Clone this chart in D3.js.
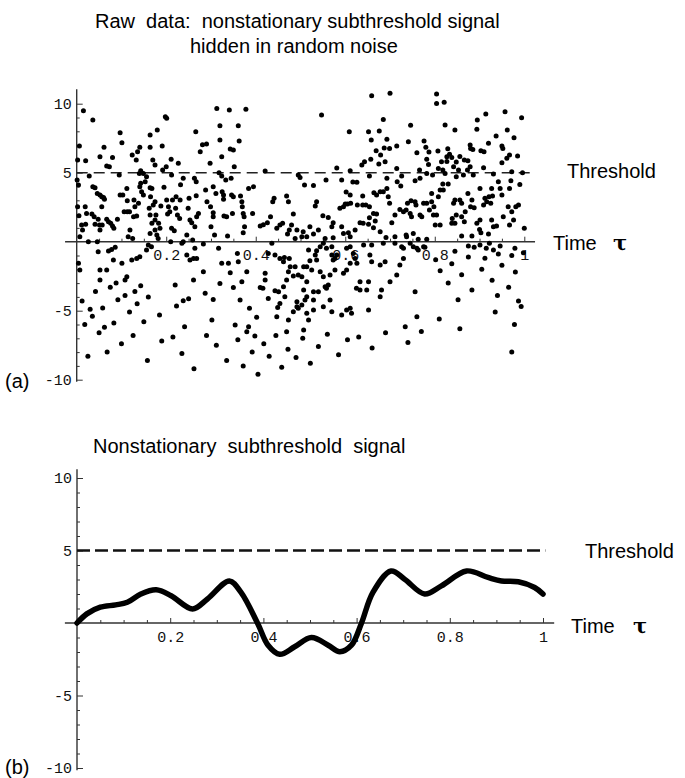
<!DOCTYPE html>
<html>
<head>
<meta charset="utf-8">
<script src="https://cdn.jsdelivr.net/npm/d3@7"></script>
<style>
  body { margin: 0; background: #fff; }
  svg { display: block; }
  .lbl { font-family: "Liberation Sans", Arial, sans-serif; fill: #000; }
  .tau { font-family: "DejaVu Serif", serif; font-weight: bold; fill: #000; }
  .tick text { font-family: "Liberation Mono", "Courier New", monospace; font-size: 15px; fill: #111; }
  .tick line { stroke: #333; }
</style>
</head>
<body>
<div id="chart"></div>
<script>
// smooth subthreshold signal, panel (b)
const signalT = [0, 0.021, 0.05, 0.083, 0.108, 0.137, 0.17, 0.202, 0.248, 0.28, 0.327, 0.352, 0.388, 0.41, 0.435, 0.467, 0.503, 0.539, 0.564, 0.589, 0.61, 0.635, 0.674, 0.703, 0.746, 0.782, 0.836, 0.882, 0.911, 0.947, 0.982, 1.0];
const signalV = [0, 0.63, 1.09, 1.25, 1.43, 2.0, 2.29, 1.88, 0.97, 1.66, 2.9, 2.11, -0.05, -1.53, -2.16, -1.64, -1.0, -1.53, -1.98, -1.53, -0.05, 2.11, 3.59, 3.02, 2.0, 2.56, 3.59, 3.14, 2.9, 2.84, 2.45, 2.0];

const rawUpperLeft = [[0.015,9.49],[0.036,8.82],[0.006,6.93],[0.002,5.92],[0.020,5.87],[0.001,4.47],[0.004,4.11],[0.028,4.76],[0.002,2.54],[0.005,1.88],[0.019,2.54],[0.011,1.21],[0.020,1.26],[0.013,0.85],[0.007,0.36],[0.026,0.0],[0.046,0.0],[0.022,2.05],[0.034,2.0],[0.039,1.81],[0.036,3.99],[0.041,3.91],[0.046,3.5],[0.052,3.38],[0.056,3.26],[0.060,3.21],[0.062,3.07],[0.056,2.54],[0.051,1.21],[0.057,1.21],[0.052,0.85],[0.048,1.62],[0.041,1.26],[0.052,6.16],[0.061,6.84],[0.067,5.48],[0.073,5.43],[0.080,6.11],[0.097,7.9],[0.101,7.17],[0.095,4.83],[0.067,1.62],[0.071,1.45],[0.076,1.33],[0.080,1.14],[0.083,0.97],[0.091,1.62],[0.097,3.38],[0.103,3.38],[0.112,3.86],[0.106,2.17],[0.113,2.17],[0.118,2.17],[0.113,2.97],[0.119,0.85],[0.115,0.36],[0.125,0.24],[0.128,3.02],[0.127,1.81],[0.124,6.28],[0.133,5.92],[0.136,6.52],[0.141,6.84],[0.143,5.14],[0.140,4.95],[0.143,4.23],[0.141,3.99],[0.145,3.62],[0.130,2.54],[0.134,1.86],[0.138,2.78],[0.149,3.38],[0.153,4.35],[0.149,4.95],[0.156,4.71],[0.164,7.73],[0.164,6.84],[0.180,8.09],[0.170,5.92],[0.175,5.56],[0.168,3.86],[0.164,3.91],[0.165,3.26],[0.162,2.42],[0.164,1.93],[0.168,1.33],[0.175,0.85],[0.164,0.6],[0.160,-0.24],[0.179,0.48],[0.182,0.24],[0.186,0.97],[0.175,1.57],[0.177,1.93],[0.171,2.66],[0.175,2.9],[0.188,2.58],[0.183,1.33],[0.191,6.93],[0.192,5.19],[0.195,3.94],[0.198,9.06],[0.201,8.94],[0.200,5.43],[0.211,5.97],[0.212,4.83],[0.205,2.54],[0.208,2.17],[0.203,2.0],[0.201,3.02],[0.214,3.02],[0.222,3.26],[0.212,0.97],[0.218,0.8],[0.210,0.0],[0.221,2.42],[0.225,1.93],[0.230,1.69],[0.231,3.02],[0.232,4.13],[0.238,4.59],[0.227,5.68],[0.246,0.48],[0.238,0.0],[0.249,2.42],[0.253,1.57],[0.251,3.14],[0.257,1.38],[0.263,4.59],[0.267,4.35],[0.266,7.97],[0.267,3.33],[0.264,1.09],[0.268,1.81],[0.272,2.05],[0.259,0.12],[0.276,6.52],[0.281,7.03],[0.290,7.08],[0.298,5.68],[0.288,3.74],[0.291,2.9],[0.299,2.54],[0.305,2.1],[0.305,1.81],[0.308,0.48],[0.300,1.09],[0.305,3.99],[0.311,3.5],[0.313,9.66],[0.320,8.41],[0.320,7.37],[0.318,5.0],[0.324,6.16],[0.324,4.76],[0.325,3.62],[0.328,3.38],[0.328,3.07],[0.333,4.47],[0.329,1.86],[0.335,1.81],[0.337,0.41],[0.343,6.71],[0.341,9.54],[0.350,6.64],[0.345,4.59],[0.346,3.38],[0.350,3.26],[0.348,2.05],[0.352,5.43],[0.361,8.41],[0.363,7.29],[0.366,3.31],[0.369,2.9],[0.370,2.54],[0.372,2.05],[0.374,1.81],[0.375,1.09],[0.372,0.65],[0.378,9.59],[0.384,3.86],[0.395,3.99],[0.393,2.05],[0.410,1.14],[0.417,1.23],[0.421,5.12],[0.426,1.38],[0.433,1.81],[0.438,2.9],[0.441,3.14],[0.447,0.97],[0.454,1.21],[0.460,1.33],[0.469,3.31],[0.473,2.9],[0.471,0.56],[0.475,0.85]];

const rawUpperRight = [[0.659,10.58],[0.700,10.75],[0.804,10.70],[0.804,10.02],[0.821,10.10],[0.547,9.18],[0.685,8.86],[0.746,8.43],[0.823,8.45],[0.845,8.09],[0.914,9.25],[0.895,8.82],[0.957,9.42],[0.994,8.99],[0.609,7.97],[0.652,7.97],[0.676,8.02],[0.658,7.37],[0.693,7.42],[0.741,7.25],[0.776,7.29],[0.894,8.14],[0.962,8.09],[0.937,7.66],[0.977,7.54],[0.920,7.13],[0.879,7.0],[0.885,6.69],[0.950,6.93],[0.952,6.76],[0.669,6.59],[0.687,6.79],[0.699,6.76],[0.715,6.93],[0.760,6.45],[0.780,6.84],[0.787,6.5],[0.807,6.57],[0.829,6.74],[0.833,6.33],[0.827,6.16],[0.838,6.11],[0.856,6.18],[0.866,5.92],[0.874,5.87],[0.880,6.76],[0.903,6.59],[0.910,6.52],[0.967,6.28],[0.961,6.04],[0.950,5.72],[0.985,6.21],[0.657,5.97],[0.643,5.8],[0.637,5.56],[0.675,5.63],[0.689,5.8],[0.679,6.28],[0.782,5.97],[0.786,5.6],[0.815,5.8],[0.827,5.82],[0.848,5.77],[0.782,4.95],[0.795,4.83],[0.808,5.31],[0.823,4.95],[0.818,5.19],[0.842,5.43],[0.853,5.19],[0.879,5.43],[0.848,4.71],[0.864,4.83],[0.873,5.19],[0.886,4.83],[0.909,5.36],[0.931,4.9],[0.942,4.35],[0.972,5.07],[0.996,5.0],[0.970,4.42],[0.990,4.15],[0.495,4.83],[0.499,4.66],[0.581,5.34],[0.611,5.14],[0.654,4.76],[0.693,4.59],[0.715,5.31],[0.716,4.35],[0.726,4.76],[0.724,4.03],[0.756,4.42],[0.767,4.59],[0.766,5.19],[0.509,4.11],[0.529,4.08],[0.557,4.47],[0.592,4.47],[0.602,3.6],[0.611,3.38],[0.617,4.32],[0.626,4.3],[0.639,3.31],[0.664,3.55],[0.670,3.38],[0.678,3.62],[0.685,3.62],[0.693,3.86],[0.696,3.26],[0.699,2.78],[0.739,2.78],[0.736,2.29],[0.747,2.97],[0.756,2.9],[0.758,2.66],[0.775,2.78],[0.782,2.78],[0.793,2.9],[0.798,2.54],[0.793,3.5],[0.808,3.26],[0.812,3.74],[0.819,3.74],[0.818,4.18],[0.830,4.18],[0.842,2.78],[0.845,3.02],[0.856,3.02],[0.860,2.78],[0.874,3.5],[0.883,3.02],[0.880,2.54],[0.888,2.46],[0.868,2.17],[0.860,1.81],[0.839,1.69],[0.848,1.93],[0.866,1.45],[0.845,1.33],[0.901,3.86],[0.912,3.14],[0.916,2.9],[0.921,3.26],[0.909,2.66],[0.929,3.31],[0.927,3.86],[0.946,3.86],[0.950,3.38],[0.967,3.86],[0.964,2.54],[0.987,2.66],[0.981,2.54],[0.972,2.17],[0.953,1.81],[0.967,1.21],[0.938,1.14],[0.927,1.57],[0.931,1.09],[0.976,1.57],[0.484,2.0],[0.533,2.58],[0.536,2.9],[0.550,1.88],[0.562,1.76],[0.573,1.38],[0.570,1.09],[0.592,1.09],[0.588,2.42],[0.596,2.54],[0.600,2.73],[0.605,2.73],[0.612,2.78],[0.627,2.66],[0.639,2.66],[0.646,2.66],[0.654,2.54],[0.663,2.05],[0.670,2.0],[0.654,1.74],[0.667,1.5],[0.633,1.38],[0.640,1.33],[0.652,1.26],[0.704,1.38],[0.711,1.93],[0.722,2.34],[0.730,2.17],[0.745,2.05],[0.748,1.81],[0.767,1.93],[0.771,1.81],[0.788,2.29],[0.797,1.93],[0.804,1.93],[0.801,1.21],[0.812,1.21],[0.838,1.33],[0.894,1.33],[0.900,0.89],[0.903,0.65],[0.920,0.56],[0.883,0.41],[0.860,0.41],[0.901,1.57],[0.925,2.78],[1.000,0.97],[0.480,1.21],[0.492,0.85],[0.506,0.72],[0.521,1.09],[0.503,0.36],[0.488,0.24],[0.514,0.36],[0.529,0.56],[0.540,0.85],[0.555,0.24],[0.573,0.29],[0.596,0.6],[0.607,0.65],[0.622,0.85],[0.611,0.36],[0.663,1.01],[0.678,0.72],[0.691,0.31],[0.711,0.36],[0.736,0.48],[0.752,0.6],[0.763,0.17],[0.782,0.17],[0.737,0.36]];

const rawLowerMid = [[0.167,-0.36],[0.235,-0.12],[0.246,-0.97],[0.261,-1.21],[0.253,-1.33],[0.268,-1.21],[0.264,-0.48],[0.283,-0.17],[0.317,-0.48],[0.324,-1.57],[0.283,-2.17],[0.261,-2.78],[0.220,-3.14],[0.185,-5.31],[0.223,-4.66],[0.238,-4.28],[0.250,-4.13],[0.287,-3.74],[0.305,-4.18],[0.241,-6.16],[0.302,-5.68],[0.320,-3.02],[0.343,-2.25],[0.339,-1.57],[0.361,-1.45],[0.359,-0.85],[0.380,-2.17],[0.369,-2.9],[0.350,-3.31],[0.365,-4.23],[0.354,-6.04],[0.386,-4.83],[0.384,-6.16],[0.380,-6.52],[0.402,-5.48],[0.398,-6.84],[0.410,-3.31],[0.421,-2.78],[0.416,-3.38],[0.421,-2.29],[0.428,-4.11],[0.443,-3.55],[0.451,-3.62],[0.449,-4.76],[0.447,-5.43],[0.454,-4.47],[0.465,-3.99],[0.462,-3.26],[0.469,-2.78],[0.473,-2.17],[0.477,-1.81],[0.462,-1.45],[0.454,-1.21],[0.443,-0.97],[0.428,-0.85],[0.436,-0.12],[0.464,-1.14],[0.475,-1.21],[0.488,-1.81],[0.484,-2.49],[0.492,-4.35],[0.492,-4.71],[0.495,-4.83],[0.484,-5.07],[0.503,-4.59],[0.510,-4.23],[0.507,-3.5],[0.514,-2.9],[0.503,-2.54],[0.495,-2.42],[0.507,-1.81],[0.514,-1.81],[0.521,-1.38],[0.518,-0.6],[0.533,-0.97],[0.536,-0.65],[0.544,-0.36],[0.551,-0.12],[0.558,-0.48],[0.570,-0.97],[0.573,-1.33],[0.577,-1.21],[0.581,-0.97],[0.536,-1.33],[0.525,-2.05],[0.544,-2.17],[0.551,-2.54],[0.566,-2.42],[0.577,-2.05],[0.555,-3.26],[0.562,-3.14],[0.540,-3.62],[0.529,-3.62],[0.514,-3.99],[0.529,-4.95],[0.529,-4.23],[0.514,-5.19],[0.518,-5.68],[0.507,-6.4],[0.473,-5.68],[0.469,-6.52],[0.551,-4.71],[0.570,-5.07],[0.566,-4.23],[0.558,-3.38],[0.592,-5.31],[0.603,-4.95],[0.611,-4.83],[0.614,-5.19],[0.652,-4.95],[0.633,-2.9],[0.625,-3.38],[0.633,-3.5],[0.648,-3.5],[0.652,-2.9],[0.678,-3.99],[0.681,-3.5],[0.655,-0.97],[0.659,-1.45],[0.678,-1.69],[0.626,-1.57],[0.622,-1.21],[0.618,-0.85],[0.611,-1.57],[0.603,-2.05],[0.596,-2.29],[0.689,-1.45],[0.700,-2.9],[0.715,-2.42],[0.722,-1.69],[0.730,-1.21],[0.734,-6.16],[0.760,-5.43],[0.756,-3.62],[0.745,-0.12],[0.760,-0.48],[0.775,-0.36],[0.711,-0.12],[0.726,-0.36],[0.641,-0.24],[0.659,-0.24],[0.603,-0.48],[0.611,-0.36],[0.570,-0.36],[0.685,-0.12]];

const rawLowerLeft = [[0.048,-0.72],[0.071,-0.68],[0.078,-0.56],[0.086,-0.41],[0.052,-2.05],[0.082,-1.33],[0.067,-2.05],[0.101,-1.57],[0.134,-1.21],[0.141,-1.09],[0.123,-1.33],[0.156,-0.6],[0.112,-2.54],[0.108,-2.78],[0.052,-2.78],[0.007,-2.05],[0.004,-1.57],[0.012,-4.3],[0.018,-6.0],[0.025,-8.3],[0.035,-5.4],[0.042,-3.6],[0.05,-6.6],[0.058,-4.8],[0.068,-8.0],[0.075,-3.3],[0.083,-5.9],[0.092,-4.2],[0.1,-7.4],[0.108,-3.9],[0.118,-5.1],[0.126,-6.8],[0.135,-4.5],[0.143,-3.2],[0.15,-5.8],[0.158,-8.6],[0.16,-4.0],[0.03,-4.9],[0.062,-6.2],[0.088,-3.0],[0.13,-3.6]];

const rawLowerDeep = [[0.19,-7.2],[0.215,-6.9],[0.235,-8.1],[0.262,-9.2],[0.29,-6.8],[0.312,-7.5],[0.335,-8.6],[0.36,-7.1],[0.372,-9.0],[0.392,-8.0],[0.405,-9.6],[0.418,-7.4],[0.43,-8.3],[0.445,-6.8],[0.458,-9.1],[0.472,-7.8],[0.49,-8.4],[0.505,-7.0],[0.522,-8.8],[0.54,-7.6],[0.56,-6.7],[0.585,-8.2],[0.605,-7.1],[0.63,-6.9],[0.66,-7.7],[0.69,-6.6],[0.74,-7.3],[0.77,-6.5]];

const rawLowerRight = [[0.730,-0.48],[0.752,-0.36],[0.763,-0.6],[0.778,-0.41],[0.875,-0.31],[0.888,-0.41],[0.901,-0.24],[0.915,-0.48],[0.922,-0.12],[0.931,-0.6],[0.946,-0.31],[0.979,-0.48],[0.802,-1.3],[0.812,-2.1],[0.83,-3.0],[0.838,-1.6],[0.845,-0.7],[0.852,-4.2],[0.86,-2.4],[0.875,-1.1],[0.883,-3.5],[0.972,-8.0],[0.905,-2.0],[0.912,-1.2],[0.928,-2.8],[0.935,-5.1],[0.942,-0.9],[0.95,-1.7],[0.965,-3.3],[0.972,-1.0],[0.98,-2.2],[0.987,-4.3],[0.993,-4.7],[0.998,-0.8],[0.81,-5.6],[0.856,-6.3],[0.94,-3.9],[0.978,-6.0]];

const rawData = [...rawUpperLeft, ...rawUpperRight, ...rawLowerMid, ...rawLowerLeft, ...rawLowerDeep, ...rawLowerRight];

const threshold = 5;
const xMajorTicks = [0.2, 0.4, 0.6, 0.8, 1];
const xMinorTicks = [0.05, 0.1, 0.15, 0.25, 0.3, 0.35, 0.45, 0.5, 0.55, 0.65, 0.7, 0.75, 0.85, 0.9, 0.95];
const yMajorTicks = [-10, -5, 5, 10];
const yMinorTicks = [-9, -8, -7, -6, -4, -3, -2, -1, 1, 2, 3, 4, 6, 7, 8, 9];

const width = 685;
const height = 778;

const svg = d3.select("#chart").append("svg")
  .attr("width", width)
  .attr("height", height);

function drawFrame(g, x, y, yTop, axisW) {
  // horizontal axis at zero, slightly longer than the data range
  g.append("line")
    .attr("x1", x(-0.026)).attr("x2", x(1.024))
    .attr("y1", y(0)).attr("y2", y(0))
    .attr("stroke", "#333").attr("stroke-width", axisW);
  g.append("line")
    .attr("x1", x(0)).attr("x2", x(0))
    .attr("y1", y(yTop)).attr("y2", y(-10.15))
    .attr("stroke", "#333").attr("stroke-width", axisW);

  const fmt = (d) => String(d);
  g.append("g").attr("transform", `translate(${x(0)},0)`)
    .call(d3.axisLeft(y).tickValues(yMinorTicks).tickSizeInner(-3).tickSizeOuter(0).tickFormat(""))
    .call((s) => s.select(".domain").remove());
  g.append("g").attr("transform", `translate(${x(0)},0)`)
    .call(d3.axisLeft(y).tickValues(yMajorTicks).tickSizeInner(-6).tickSizeOuter(0).tickPadding(5).tickFormat(fmt))
    .call((s) => s.select(".domain").remove());
  g.append("g").attr("transform", `translate(0,${y(0)})`)
    .call(d3.axisBottom(x).tickValues(xMinorTicks).tickSizeInner(-3).tickSizeOuter(0).tickFormat(""))
    .call((s) => s.select(".domain").remove());
  g.append("g").attr("transform", `translate(0,${y(0)})`)
    .call(d3.axisBottom(x).tickValues(xMajorTicks).tickSizeInner(-5).tickSizeOuter(0).tickPadding(8).tickFormat(fmt))
    .call((s) => s.select(".domain").remove());
}

function label(g, text, x, y, size) {
  g.append("text").attr("class", "lbl").attr("x", x).attr("y", y)
    .attr("font-size", size).style("white-space", "pre").text(text);
}

// ---- panel (a) ----
const xa = d3.scaleLinear().domain([0, 1]).range([76.7, 524.3]);
const ya = d3.scaleLinear().domain([-10, 10]).range([379.7, 103.7]);
const ga = svg.append("g");

drawFrame(ga, xa, ya, 11.05, 1.4);

ga.append("line")
  .attr("x1", xa(0)).attr("x2", xa(1.02))
  .attr("y1", ya(threshold)).attr("y2", ya(threshold))
  .attr("stroke", "#222").attr("stroke-width", 1.6)
  .attr("stroke-dasharray", "11,6");

ga.append("g").selectAll("circle")
  .data(rawData)
  .join("circle")
  .attr("cx", (d) => xa(d[0]))
  .attr("cy", (d) => ya(d[1]))
  .attr("r", 2.5)
  .attr("fill", "#000");

label(ga, "Raw  data:  nonstationary subthreshold signal", 95, 28, 20);
label(ga, "hidden in random noise", 190, 53, 20);
label(ga, "Threshold", 567, 178, 20);
label(ga, "Time", 553, 250, 20);
ga.append("text").attr("class", "tau").attr("x", 613).attr("y", 250).attr("font-size", 21).text("τ");
label(ga, "(a)", 5, 388, 20);

// ---- panel (b) ----
const xb = d3.scaleLinear().domain([0, 1]).range([77, 543]);
const yb = d3.scaleLinear().domain([-10, 10]).range([768, 478]);
const gb = svg.append("g");

drawFrame(gb, xb, yb, 10.6, 1.4);

gb.append("line")
  .attr("x1", xb(0)).attr("x2", xb(1.005))
  .attr("y1", yb(threshold)).attr("y2", yb(threshold))
  .attr("stroke", "#111").attr("stroke-width", 2.3)
  .attr("stroke-dasharray", "13,5");

const signal = signalT.map((t, i) => [t, signalV[i]]);
gb.append("path")
  .datum(signal)
  .attr("fill", "none")
  .attr("stroke", "#000")
  .attr("stroke-width", 5.5)
  .attr("stroke-linecap", "round")
  .attr("stroke-linejoin", "round")
  .attr("d", d3.line().x((d) => xb(d[0])).y((d) => yb(d[1])).curve(d3.curveCatmullRom));

label(gb, "Nonstationary  subthreshold  signal", 93, 453, 20);
label(gb, "Threshold", 585, 558, 20);
label(gb, "Time", 571, 633, 20);
gb.append("text").attr("class", "tau").attr("x", 633).attr("y", 633).attr("font-size", 21).text("τ");
label(gb, "(b)", 5, 774, 20);
</script>
</body>
</html>
